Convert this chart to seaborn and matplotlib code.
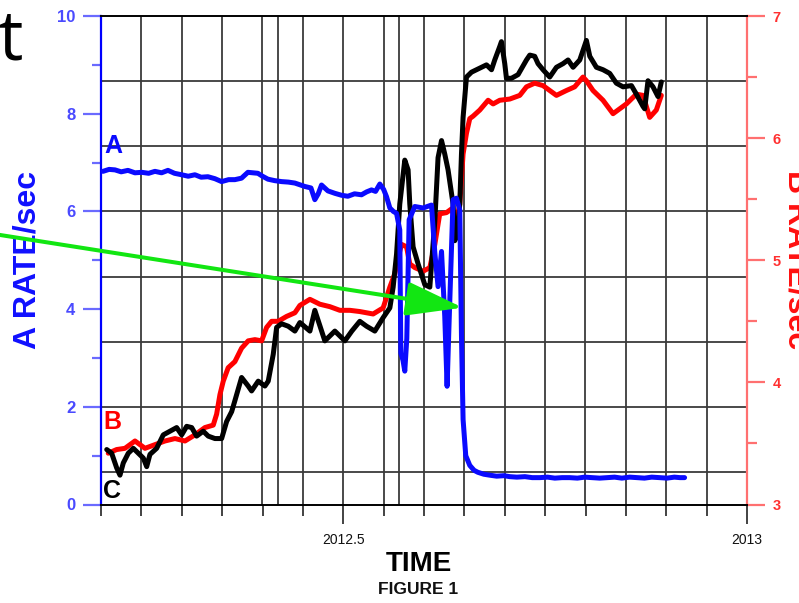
import numpy as np
import pandas as pd
import matplotlib
matplotlib.use("Agg")
import matplotlib.pyplot as plt
import matplotlib.transforms as mtransforms
from matplotlib.text import Annotation
from matplotlib.ticker import FixedLocator
import seaborn as sns

# ---------------- data ----------------
time_a = [2012.2025, 2012.2100, 2012.2173, 2012.2250, 2012.2334, 2012.2420, 2012.2504, 2012.2590,
          2012.2668, 2012.2750, 2012.2829, 2012.2910, 2012.2999, 2012.3080, 2012.3163, 2012.3240,
          2012.3324, 2012.3410, 2012.3494, 2012.3580, 2012.3658, 2012.3740, 2012.3819, 2012.3943,
          2012.4000, 2012.4067, 2012.4150, 2012.4236, 2012.4320, 2012.4401, 2012.4525, 2012.4600,
          2012.4648, 2012.4690, 2012.4731, 2012.4810, 2012.4896, 2012.4980, 2012.5057, 2012.5140,
          2012.5226, 2012.5290, 2012.5350, 2012.5400, 2012.5453, 2012.5500, 2012.5536, 2012.5577,
          2012.5620, 2012.5660, 2012.5700, 2012.5713, 2012.5740, 2012.5762, 2012.5787, 2012.5816,
          2012.5886, 2012.5989, 2012.6093, 2012.6134, 2012.6174, 2012.6217, 2012.6257, 2012.6286,
          2012.6311, 2012.6360, 2012.6402, 2012.6443, 2012.6464, 2012.6484, 2012.6517, 2012.6567,
          2012.6620, 2012.6666, 2012.6740, 2012.6814, 2012.6900, 2012.6990, 2012.7062, 2012.7150,
          2012.7250, 2012.7340, 2012.7433, 2012.7530, 2012.7620, 2012.7710, 2012.7804, 2012.7900,
          2012.7990, 2012.8080, 2012.8176, 2012.8270, 2012.8360, 2012.8450, 2012.8547, 2012.8640,
          2012.8730, 2012.8820, 2012.8918, 2012.9010, 2012.9100, 2012.9170, 2012.9227]
rate_a = [6.82, 6.86, 6.85, 6.81, 6.84, 6.79, 6.80, 6.78, 6.82, 6.79, 6.84, 6.78, 6.75, 6.72,
          6.75, 6.70, 6.71, 6.67, 6.61, 6.65, 6.65, 6.68, 6.80, 6.78, 6.72, 6.66, 6.63, 6.61,
          6.60, 6.58, 6.51, 6.48, 6.24, 6.36, 6.54, 6.42, 6.37, 6.33, 6.31, 6.36, 6.34, 6.40,
          6.44, 6.41, 6.56, 6.45, 6.30, 6.07, 6.00, 5.96, 5.62, 3.10, 2.95, 2.73, 3.40, 5.83,
          6.10, 6.07, 6.13, 5.15, 4.46, 5.18, 3.85, 2.42, 3.74, 6.24, 6.27, 6.03, 3.45, 1.74,
          1.00, 0.80, 0.70, 0.66, 0.62, 0.60, 0.58, 0.59, 0.57, 0.56, 0.57, 0.55, 0.55, 0.56,
          0.54, 0.55, 0.55, 0.54, 0.56, 0.55, 0.54, 0.55, 0.56, 0.54, 0.56, 0.55, 0.54, 0.56,
          0.55, 0.54, 0.56, 0.55, 0.55]

time_b = [2012.2090, 2012.2194, 2012.2297, 2012.2421, 2012.2545, 2012.2668, 2012.2792, 2012.2916,
          2012.3040, 2012.3163, 2012.3287, 2012.3390, 2012.3432, 2012.3473, 2012.3514, 2012.3575,
          2012.3658, 2012.3741, 2012.3823, 2012.3906, 2012.3989, 2012.4051, 2012.4113, 2012.4194,
          2012.4298, 2012.4401, 2012.4463, 2012.4587, 2012.4710, 2012.4834, 2012.4958, 2012.5082,
          2012.5205, 2012.5370, 2012.5494, 2012.5577, 2012.5639, 2012.5679, 2012.5722, 2012.5784,
          2012.5824, 2012.5886, 2012.5989, 2012.6072, 2012.6134, 2012.6195, 2012.6278, 2012.6340,
          2012.6402, 2012.6443, 2012.6484, 2012.6526, 2012.6567, 2012.6608, 2012.6691, 2012.6794,
          2012.6856, 2012.6938, 2012.7062, 2012.7186, 2012.7269, 2012.7371, 2012.7474, 2012.7557,
          2012.7640, 2012.7764, 2012.7866, 2012.7969, 2012.8011, 2012.8093, 2012.8217, 2012.8341,
          2012.8506, 2012.8630, 2012.8712, 2012.8795, 2012.8877, 2012.8939]
rate_b = [3.42, 3.45, 3.46, 3.52, 3.46, 3.49, 3.52, 3.54, 3.52, 3.57, 3.63, 3.65, 3.74, 3.90,
          4.01, 4.12, 4.17, 4.28, 4.34, 4.35, 4.34, 4.45, 4.50, 4.50, 4.54, 4.57, 4.63, 4.68,
          4.64, 4.62, 4.59, 4.59, 4.58, 4.56, 4.61, 4.78, 4.89, 5.02, 5.13, 5.11, 4.97, 4.94,
          4.91, 4.94, 5.13, 5.38, 5.39, 5.42, 5.32, 5.46, 5.87, 6.04, 6.16, 6.18, 6.23, 6.31,
          6.28, 6.31, 6.32, 6.35, 6.42, 6.45, 6.43, 6.39, 6.35, 6.39, 6.42, 6.50, 6.47, 6.39,
          6.31, 6.20, 6.28, 6.36, 6.35, 6.17, 6.23, 6.35]

time_c = [2012.2071, 2012.2132, 2012.2194, 2012.2235, 2012.2276, 2012.2338, 2012.2400, 2012.2462,
          2012.2524, 2012.2566, 2012.2606, 2012.2689, 2012.2771, 2012.2854, 2012.2937, 2012.2999,
          2012.3061, 2012.3123, 2012.3184, 2012.3266, 2012.3328, 2012.3411, 2012.3494, 2012.3556,
          2012.3618, 2012.3658, 2012.3741, 2012.3823, 2012.3865, 2012.3947, 2012.4030, 2012.4071,
          2012.4133, 2012.4175, 2012.4236, 2012.4318, 2012.4401, 2012.4463, 2012.4587, 2012.4648,
          2012.4772, 2012.4896, 2012.5020, 2012.5106, 2012.5205, 2012.5288, 2012.5391, 2012.5494,
          2012.5577, 2012.5618, 2012.5660, 2012.5700, 2012.5762, 2012.5803, 2012.5824, 2012.5865,
          2012.5927, 2012.6010, 2012.6072, 2012.6134, 2012.6174, 2012.6217, 2012.6257, 2012.6298,
          2012.6360, 2012.6381, 2012.6410, 2012.6443, 2012.6464, 2012.6484, 2012.6526, 2012.6588,
          2012.6650, 2012.6712, 2012.6774, 2012.6836, 2012.6876, 2012.6938, 2012.6959, 2012.7000,
          2012.7021, 2012.7083, 2012.7165, 2012.7269, 2012.7310, 2012.7371, 2012.7412, 2012.7474,
          2012.7557, 2012.7640, 2012.7722, 2012.7784, 2012.7846, 2012.7929, 2012.8011, 2012.8053,
          2012.8135, 2012.8217, 2012.8300, 2012.8382, 2012.8465, 2012.8569, 2012.8630, 2012.8712,
          2012.8733, 2012.8774, 2012.8836, 2012.8898, 2012.8939]
rate_c = [3.45, 3.42, 3.30, 3.24, 3.34, 3.42, 3.46, 3.42, 3.38, 3.31, 3.41, 3.46, 3.57, 3.60,
          3.63, 3.57, 3.64, 3.63, 3.56, 3.60, 3.56, 3.54, 3.54, 3.68, 3.76, 3.85, 4.04, 3.97,
          3.93, 4.01, 3.97, 4.01, 4.23, 4.45, 4.48, 4.46, 4.42, 4.49, 4.42, 4.59, 4.34, 4.42,
          4.34, 4.42, 4.50, 4.46, 4.42, 4.53, 4.61, 4.78, 5.05, 5.46, 5.82, 5.74, 5.46, 5.11,
          4.97, 4.80, 4.78, 5.32, 5.84, 5.98, 5.87, 5.74, 5.46, 5.16, 5.21, 5.46, 5.87, 6.17,
          6.50, 6.54, 6.56, 6.58, 6.60, 6.56, 6.64, 6.75, 6.79, 6.61, 6.49, 6.49, 6.52, 6.64,
          6.68, 6.67, 6.61, 6.56, 6.50, 6.58, 6.61, 6.64, 6.58, 6.64, 6.80, 6.67, 6.58, 6.56,
          6.53, 6.45, 6.42, 6.43, 6.36, 6.26, 6.24, 6.47, 6.42, 6.34, 6.46]

x_major = [2012.5, 2013.0]
x_major_labels = ["2012.5", "2013"]
x_minor = [2012.2, 2012.25, 2012.3, 2012.35, 2012.4, 2012.45, 2012.55, 2012.6,
           2012.65, 2012.7, 2012.75, 2012.8, 2012.85, 2012.9, 2012.95]
event_years = [2012.419, 2012.569]
a_hgrid = [0.667, 2.0, 3.333, 4.667, 6.0, 7.333, 8.667]
a_ticks = [0, 2, 4, 6, 8, 10]
a_minor = [1, 3, 5, 7, 9]
b_ticks = [3, 4, 5, 6, 7]
b_minor = [3.5, 4.5, 5.5, 6.5]
arrow_target = (2012.648, 4.03)

# ---------------- style ----------------
sns.set_theme(style="white")
plt.rcParams["font.family"] = ["Liberation Sans", "DejaVu Sans"]

W, H = 799, 603
fig = plt.figure(figsize=(W / 100, H / 100), dpi=100)
fig.patch.set_facecolor("white")

ax = fig.add_axes([101 / W, 1 - 504.5 / H, (747 - 101) / W, (504.5 - 16) / H])
ax2 = ax.twinx()
ax.set_zorder(ax2.get_zorder() + 1)
ax.patch.set_visible(False)
ax2.patch.set_visible(True)
ax2.patch.set_facecolor("white")

BLUE = "#0a0aff"
RED = "#ff0000"
GRID = "#3a3a3a"
LW = 3.6

# grid lines (drawn on the lower axes so every curve sits above them)
for xv in x_minor[1:] + [2012.5] + event_years:
    ax2.axvline(xv, color=GRID, lw=1.3, zorder=0.5)
hl_trans = mtransforms.blended_transform_factory(ax2.transAxes, ax.transData)
for yv in a_hgrid:
    ax2.plot([0, 1], [yv, yv], transform=hl_trans, color=GRID, lw=1.3, zorder=0.5)

df_a = pd.DataFrame({"time": time_a, "rate": rate_a})
df_b = pd.DataFrame({"time": time_b, "rate": rate_b})
df_c = pd.DataFrame({"time": time_c, "rate": rate_c})

sns.lineplot(data=df_b, x="time", y="rate", ax=ax2, color=RED, lw=LW,
             estimator=None, sort=False, zorder=3)
sns.lineplot(data=df_c, x="time", y="rate", ax=ax2, color="black", lw=LW,
             estimator=None, sort=False, zorder=4)
sns.lineplot(data=df_a, x="time", y="rate", ax=ax, color=BLUE, lw=LW,
             estimator=None, sort=False, zorder=5)

ax.set_xlim(2012.2, 2013.0)
ax.set_ylim(0, 10)
ax2.set_ylim(3, 7)
for a in (ax, ax2):
    a.set_xlabel("")
    a.set_ylabel("")
    a.grid(False)

# spines
for s in ("top", "bottom"):
    ax.spines[s].set_color("black")
    ax.spines[s].set_linewidth(1.4)
ax.spines["left"].set_color("#0000ff")
ax.spines["left"].set_linewidth(1.6)
ax.spines["right"].set_visible(False)
for s in ("top", "bottom", "left"):
    ax2.spines[s].set_visible(False)
ax2.spines["right"].set_color("#ff7070")
ax2.spines["right"].set_linewidth(1.6)

# x axis
ax.set_xticks(x_major, labels=x_major_labels, fontsize=10, color="#111111")
ax.xaxis.set_minor_locator(FixedLocator(x_minor))
ax.tick_params(axis="x", which="major", direction="out", length=13.5, width=1.2,
               color="#222222", pad=7, bottom=True)
ax.tick_params(axis="x", which="minor", direction="out", length=8, width=1.2,
               color="#222222", bottom=True)

# left axis
ax.set_yticks(a_ticks, labels=[str(v) for v in a_ticks], fontsize=12,
              fontweight="bold", color="#4a4aff")
ax.yaxis.set_minor_locator(FixedLocator(a_minor))
ax.tick_params(axis="y", which="major", direction="out", length=13, width=1.6,
               color="#6a6aff", pad=5.5, left=True)
ax.tick_params(axis="y", which="minor", direction="out", length=6.5, width=1.6,
               color="#6a6aff", left=True)

# right axis
ax2.set_yticks(b_ticks, labels=[str(v) for v in b_ticks], fontsize=10.5,
               fontweight="bold", color="#ff3030")
ax2.yaxis.set_minor_locator(FixedLocator(b_minor))
ax2.tick_params(axis="y", which="major", direction="out", length=13, width=1.6,
                color="#ff7070", pad=5.5, right=True)
ax2.tick_params(axis="y", which="minor", direction="out", length=7, width=1.6,
                color="#ff7070", right=True)

# series letters
fig.text(113 / W, 1 - 146 / H, "A", color=BLUE, fontsize=18, fontweight="bold",
         ha="center", va="center")
fig.text(112 / W, 1 - 422 / H, "B", color=RED, fontsize=18, fontweight="bold",
         ha="center", va="center")
fig.text(112.5 / W, 1 - 491 / H, "C", color="black", fontsize=18, fontweight="bold",
         ha="center", va="center")

# axis titles
fig.text(27.5 / W, 1 - 260 / H, "A RATE/sec", rotation=90, color="#1010ff",
         fontsize=23, fontweight="bold", ha="center", va="center")
fig.text(797 / W, 1 - 260 / H, "B RATE/sec", rotation=270, color="#ff1010",
         fontsize=23, fontweight="bold", ha="center", va="center")
fig.text(419 / W, 1 - 564 / H, "TIME", color="black", fontsize=20,
         fontweight="bold", ha="center", va="center")
fig.text(418 / W, 1 - 590 / H, "FIGURE 1", color="#111111", fontsize=12.5,
         fontweight="bold", ha="center", va="center")

# slide text fragment at the top-left
fig.text(24 / W, 1 - 60 / H, "at", color="black", fontsize=50,
         family=["Open Sans", "DejaVu Sans"], ha="right", va="baseline")

# green pointer arrow
arrow = Annotation("", xy=arrow_target, xycoords=ax.transData,
                   xytext=(-10, H - 233.4), textcoords="figure pixels",
                   arrowprops=dict(arrowstyle="-|>,head_length=3.5,head_width=1.05",
                                   color="#12e612", lw=2.9, mutation_scale=10,
                                   shrinkA=0, shrinkB=0))
arrow.set_zorder(20)
fig.add_artist(arrow)

fig.savefig("out.png", dpi=100)
